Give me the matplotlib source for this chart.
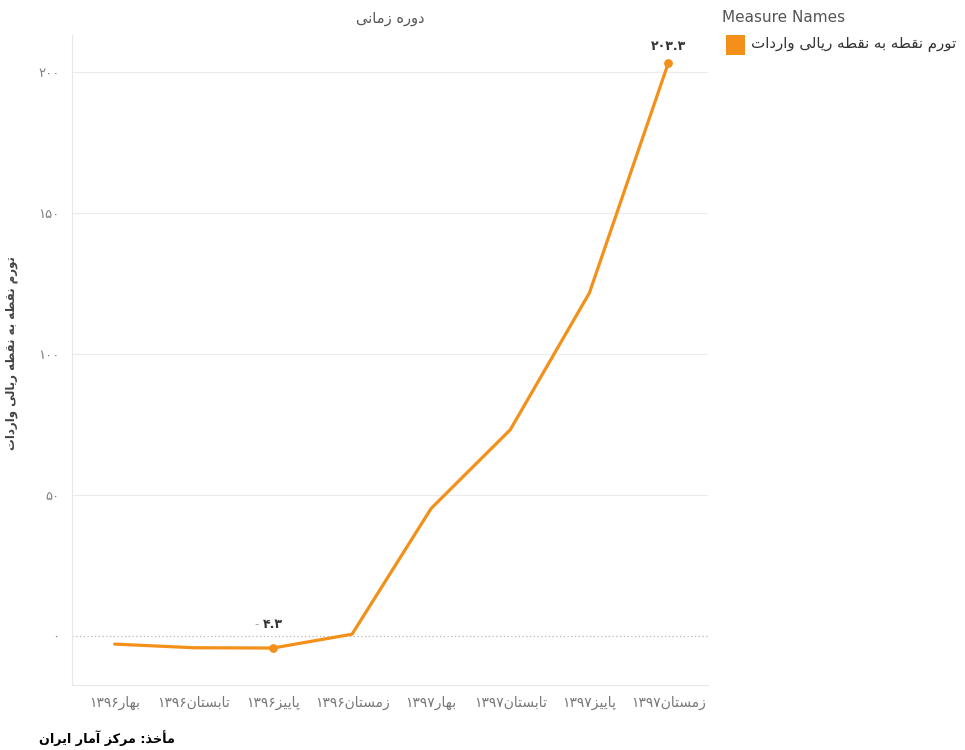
import re
import matplotlib
matplotlib.use('Agg')
import matplotlib.pyplot as plt
from matplotlib.patches import Rectangle
from matplotlib.ticker import FuncFormatter

# data
periods = ['بهار۱۳۹۶', 'تابستان۱۳۹۶', 'پاییز۱۳۹۶', 'زمستان۱۳۹۶',
           'بهار۱۳۹۷', 'تابستان۱۳۹۷', 'پاییز۱۳۹۷', 'زمستان۱۳۹۷']
inflation = [-2.9, -4.2, -4.3, 0.6, 45.2, 73.1, 121.6, 203.3]
labeled = [2, 7]   # points with a value label (min / max)
yticks = [0, 50, 100, 150, 200]

series_name = 'تورم نقطه به نقطه ریالی واردات'
title = 'دوره زمانی'
source = 'مأخذ: مرکز آمار ایران'

ORANGE = '#F39019'

# presentation forms: (isolated, final[, initial, medial])
FORMS = {
    '\u0627': ('\uFE8D', '\uFE8E'),
    '\u0622': ('\uFE81', '\uFE82'),
    '\u0623': ('\uFE83', '\uFE84'),
    '\u062F': ('\uFEA9', '\uFEAA'),
    '\u0630': ('\uFEAB', '\uFEAC'),
    '\u0631': ('\uFEAD', '\uFEAE'),
    '\u0632': ('\uFEAF', '\uFEB0'),
    '\u0698': ('\uFB8A', '\uFB8B'),
    '\u0648': ('\uFEED', '\uFEEE'),
    '\u0628': ('\uFE8F', '\uFE90', '\uFE91', '\uFE92'),
    '\u067E': ('\uFB56', '\uFB57', '\uFB58', '\uFB59'),
    '\u062A': ('\uFE95', '\uFE96', '\uFE97', '\uFE98'),
    '\u062E': ('\uFEA5', '\uFEA6', '\uFEA7', '\uFEA8'),
    '\u0633': ('\uFEB1', '\uFEB2', '\uFEB3', '\uFEB4'),
    '\u0634': ('\uFEB5', '\uFEB6', '\uFEB7', '\uFEB8'),
    '\u0637': ('\uFEC1', '\uFEC2', '\uFEC3', '\uFEC4'),
    '\u0641': ('\uFED1', '\uFED2', '\uFED3', '\uFED4'),
    '\u0642': ('\uFED5', '\uFED6', '\uFED7', '\uFED8'),
    '\u06A9': ('\uFB8E', '\uFB8F', '\uFB90', '\uFB91'),
    '\u0644': ('\uFEDD', '\uFEDE', '\uFEDF', '\uFEE0'),
    '\u0645': ('\uFEE1', '\uFEE2', '\uFEE3', '\uFEE4'),
    '\u0646': ('\uFEE5', '\uFEE6', '\uFEE7', '\uFEE8'),
    '\u0647': ('\uFEE9', '\uFEEA', '\uFEEB', '\uFEEC'),
    '\u06CC': ('\uFBFC', '\uFBFD', '\uFBFE', '\uFBFF'),
}


def fa(text):
    # minimal arabic shaping + RTL ordering, matplotlib does neither
    text = text.replace('\u064A', '\u06CC').replace('\u0643', '\u06A9')
    out = []
    for i, ch in enumerate(text):
        if ch not in FORMS:
            out.append(ch)
            continue
        f = FORMS[ch]
        prev = text[i - 1] if i > 0 else ''
        nxt = text[i + 1] if i + 1 < len(text) else ''
        p = prev in FORMS and len(FORMS[prev]) == 4
        n = len(f) == 4 and nxt in FORMS
        if p and n:
            out.append(f[3])
        elif p:
            out.append(f[1])
        elif n:
            out.append(f[2])
        else:
            out.append(f[0])
    vis = ''.join(reversed(out))
    return re.sub(r'[0-9\u06F0-\u06F9.]+', lambda m: m.group(0)[::-1], vis)


def fd(s):
    return str(s).translate(str.maketrans('0123456789', '۰۱۲۳۴۵۶۷۸۹'))


plt.rcParams['font.family'] = ['DejaVu Sans']

fig = plt.figure(figsize=(9.65, 7.5), dpi=100)
ax = fig.add_axes([0.0746, 0.0867, 0.6591, 0.8667])

x = list(range(len(periods)))
ax.plot(x, inflation, color=ORANGE, lw=2.3, solid_capstyle='round', zorder=3)
ax.scatter([x[i] for i in labeled], [inflation[i] for i in labeled],
           s=28, color=ORANGE, zorder=4)
label_offsets = [12, 7]
for i, off in zip(labeled, label_offsets):
    v = inflation[i]
    txt = fd(f'{abs(v):.1f}')
    ann = ax.annotate(txt, (x[i], v), xytext=(0, off), textcoords='offset points',
                      ha='center', va='bottom', fontsize=9, fontweight='bold',
                      color='#333333')
    if v < 0:
        # tableau draws the minus sign faint, left of the number
        ax.annotate('-', (x[i], v), xytext=(-10, off), textcoords='offset points',
                    ha='right', va='bottom', fontsize=9, color='#aaaaaa')

ax.set_xlim(-0.54, 7.5)
ax.set_ylim(-17.4, 213.1)

for t in yticks[1:]:
    ax.axhline(t, color='#ececec', lw=0.8, zorder=1)
ax.axhline(0, color='#b5b5b5', lw=0.9, ls=(0, (1, 2)), zorder=1)

ax.set_yticks(yticks)
ax.yaxis.set_major_formatter(FuncFormatter(lambda v, _: fd(f'{v:.0f}')))
ax.set_xticks(x)
ax.set_xticklabels([fa(p) for p in periods])
ax.tick_params(axis='y', length=0, labelsize=9.5, colors='#808080', pad=9)
ax.tick_params(axis='x', length=0, labelsize=10, colors='#777777', pad=8)

for side in ['top', 'right']:
    ax.spines[side].set_visible(False)
for side in ['left', 'bottom']:
    ax.spines[side].set_color('#e8e8e8')
    ax.spines[side].set_linewidth(0.8)

ax.set_ylabel(fa(series_name), fontsize=8.5, fontweight='bold', color='#444444')
ax.yaxis.set_label_coords(-0.085, 0.51)

fig.text(0.404, 0.976, fa(title), ha='center', va='center', fontsize=10.5,
         color='#555555')

# legend, drawn by hand like the tableau side panel
fig.text(0.748, 0.977, 'Measure Names', ha='left', va='center', fontsize=11,
         color='#555555')
fig.patches.append(Rectangle((0.752, 0.927), 0.02, 0.026, transform=fig.transFigure,
                             facecolor=ORANGE, edgecolor='none'))
fig.text(0.778, 0.940, fa(series_name), ha='left', va='center', fontsize=10.8,
         color='#333333')

fig.text(0.04, 0.006, fa(source), ha='left', va='bottom', fontsize=9.2,
         fontweight='bold', color='#000000')

fig.savefig('out.png', dpi=100)
